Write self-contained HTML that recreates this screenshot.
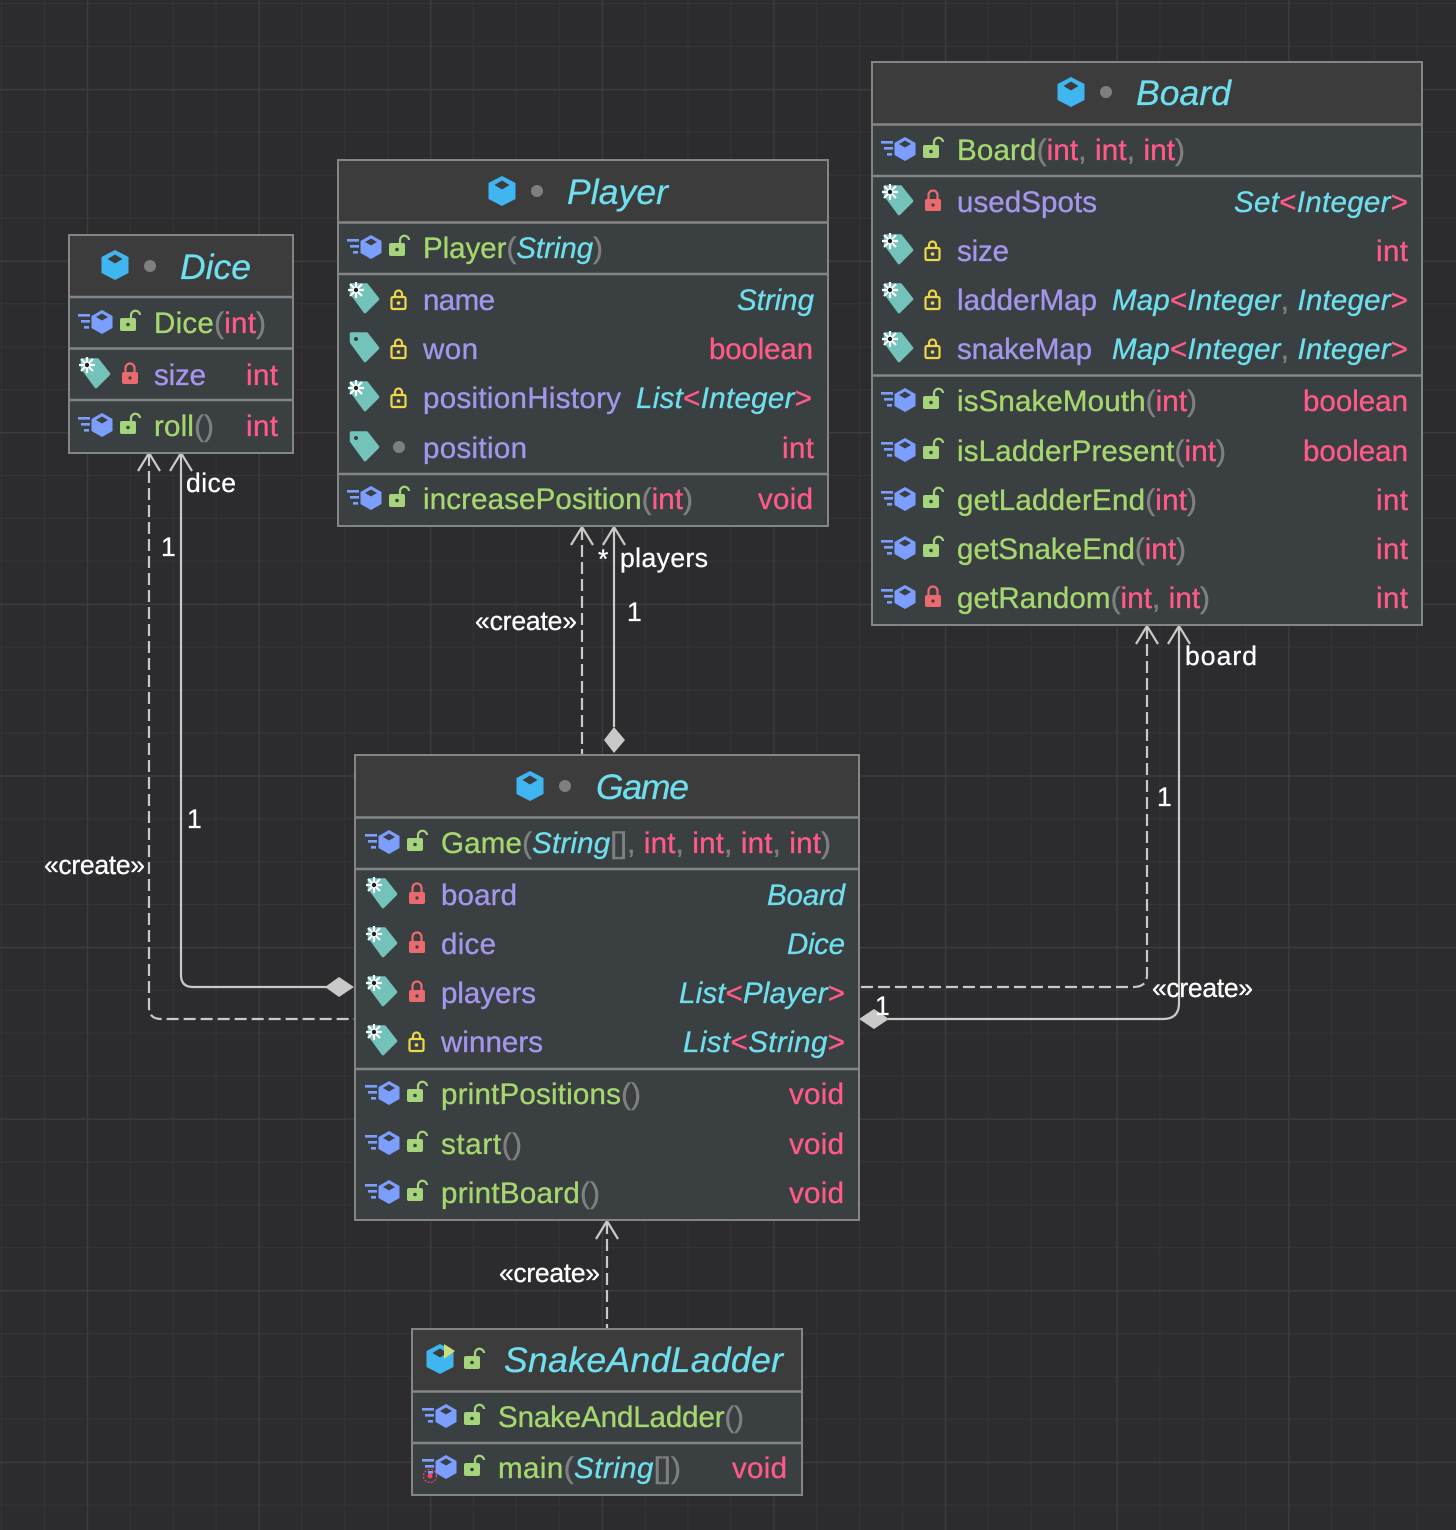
<!DOCTYPE html>
<html><head><meta charset="utf-8"><style>
html,body{margin:0;padding:0;background:#2c2b2e}
svg{display:block}
text{font-family:"Liberation Sans",sans-serif;font-size:29.5px}
.g{fill:#a6d76f;stroke:#a6d76f;stroke-width:.35}.p{fill:#7f7f7f;stroke:#7f7f7f;stroke-width:.5}.k{fill:#ff5a88;stroke:#ff5a88;stroke-width:.35}.c{fill:#6fdfee;stroke:#6fdfee;stroke-width:.3;font-style:italic}.f{fill:#a496ec;stroke:#a496ec;stroke-width:.35}
.t{fill:#6fdfee;stroke:#6fdfee;stroke-width:.3;font-style:italic;font-size:35.5px}
.l{fill:#fff;stroke:#fff;stroke-width:.3;font-size:26.5px}
.b1{fill:#3c3c3c}.b2{fill:#3a3f42}
.box{fill:none;stroke:#858585;stroke-width:2}
.d{stroke:#858585;stroke-width:2.4;fill:none}
.w{fill:none;stroke:#c9c9c9;stroke-width:2.2}
.da{stroke-dasharray:12 5}
</style></head><body>
<svg width="1456" height="1530" viewBox="0 0 1456 1530" xmlns="http://www.w3.org/2000/svg">
<defs>
<pattern id="mn" x="1" y="3" width="42.9" height="42.9" patternUnits="userSpaceOnUse"><path d="M0.5 0V43M0 0.5H43" stroke="#343436" stroke-width="1.2" fill="none"/></pattern>
<pattern id="mj" x="87" y="89" width="171.6" height="171.6" patternUnits="userSpaceOnUse"><path d="M0.5 0V172M0 0.5H172" stroke="#3d3d3f" stroke-width="1.4" fill="none"/></pattern>
<g id="cube"><path d="M0 -15L13.500 -8V8L0 15L-13.500 8V-8Z" fill="#40b6f0"/><path d="M0 -10.500L7.500 -6L0 -1.500L-7.500 -6Z" fill="#3c3c3c"/></g>
<g id="m"><path d="M-76 -8h12v2.600h-12zM-73 -2h9v2.600h-9zM-70 4h5v2.600h-5z" fill="#7c9fff"/><path d="M-52 -12L-41.500 -6V6L-52 12L-62.500 6V-6Z" fill="#7c9fff"/><path d="M-52 -8.500L-46 -5L-52 -1.500L-58 -5Z" fill="#3a3f42"/></g>
<g id="o"><rect x="-34" y="-4" width="16" height="13" rx="2" fill="#a6d47a"/><circle cx="-26" cy="2.500" r="1.800" fill="#3a3f42"/><path d="M-23 -4V-6.500A4.500 4.500 0 0 1 -14 -7" fill="none" stroke="#a6d47a" stroke-width="2.200"/></g>
<g id="r"><rect x="-32" y="-2" width="16" height="12" rx="2" fill="#ea6a70"/><circle cx="-24" cy="4" r="1.600" fill="#3a3f42"/><path d="M-28.500 -2V-6A4.500 4.500 0 0 1 -19.500 -6V-2" fill="none" stroke="#ea6a70" stroke-width="2.200"/></g>
<g id="y"><rect x="-31.500" y="-2" width="14" height="12" rx="1.500" fill="none" stroke="#f0d64a" stroke-width="2.200"/><circle cx="-24.500" cy="4" r="1.800" fill="#f0d64a"/><path d="M-28 -2V-5A3.500 3.500 0 0 1 -21 -5V-2" fill="none" stroke="#f0d64a" stroke-width="2.200"/></g>
<g id="a"><circle cx="-24" cy="0" r="6" fill="#7f7f7f"/></g>
<g id="tag"><path d="M-71.500 -14H-56.500L-45.500 0L-58 12.500L-71.500 -6Z" fill="#73c3ba" stroke="#73c3ba" stroke-linejoin="round" stroke-width="3.500"/><circle cx="-67" cy="-9" r="2" fill="#3a3f42"/></g>
<g id="tags"><use href="#tag"/><path d="M-75 -9H-59M-67 -17V-1M-73 -15L-61 -3M-73 -3L-61 -15" stroke="#fff" stroke-width="2.200" fill="none"/><circle cx="-67" cy="-9" r="2.200" fill="#222"/></g>
</defs>
<rect width="1456" height="1530" fill="#2c2b2e"/>
<rect width="1456" height="1530" fill="url(#mn)"/>
<rect width="1456" height="1530" fill="url(#mj)"/>

<!-- Connectors -->
<g class="w">
<path class="da" d="M149 454V1007Q149 1019 161 1019H355"/>
<path d="M181 454V975Q181 987 193 987H327"/>
<path class="da" d="M582 528V755"/>
<path d="M614 528V727"/>
<path class="da" d="M1147 627V975Q1147 987 1133 987H859"/>
<path d="M1179 627V1003Q1179 1019 1163 1019H888"/>
<path class="da" d="M607 1222V1329"/>
<path d="M138 471L149 453L160 471M170 471L181 453L192 471M571 545L582 527L593 545M603 545L614 527L625 545M1136 644L1147 626L1158 644M1168 644L1179 626L1190 644M596 1239L607 1221L618 1239"/>
</g>
<path d="M325 987L339 977L354 987L339 997ZM604 740L614 727L625 740L614 753ZM859 1019L874 1009L889 1019L874 1029Z" fill="#c9c9c9"/>

<!-- Dice -->
<rect x="69" y="235" width="224" height="218" class="b2"/><rect x="69" y="235" width="224" height="62" class="b1"/>
<rect x="69" y="235" width="224" height="218" class="box"/>
<path class="d" d="M70 297H292M70 348.500H292M70 400H292"/>
<use href="#cube" x="115" y="265"/><circle cx="150" cy="266" r="6" fill="#7f7f7f"/>
<text x="180" y="279" class="t" textLength="71">Dice</text>
<use href="#m" x="154" y="322"/><use href="#o" x="154" y="322"/>
<text x="154" y="333" textLength="112" class="g">Dice<tspan class="p">(</tspan><tspan class="k">int</tspan><tspan class="p">)</tspan></text>
<use href="#tags" x="154" y="374"/><use href="#r" x="154" y="374"/>
<text x="154" y="385" textLength="52" class="f">size</text><text x="246" y="385" textLength="32" class="k">int</text>
<use href="#m" x="154" y="425"/><use href="#o" x="154" y="425"/>
<text x="154" y="436" textLength="60" class="g">roll<tspan class="p">()</tspan></text><text x="246" y="436" textLength="32" class="k">int</text>

<!-- Player -->
<rect x="338" y="160" width="490" height="366" class="b2"/><rect x="338" y="160" width="490" height="62" class="b1"/>
<rect x="338" y="160" width="490" height="366" class="box"/>
<path class="d" d="M339 222.500H827M339 274H827M339 474H827"/>
<use href="#cube" x="502" y="191"/><circle cx="537" cy="191" r="6" fill="#7f7f7f"/>
<text x="567" y="204" class="t" textLength="101">Player</text>
<use href="#m" x="423" y="247"/><use href="#o" x="423" y="247"/>
<text x="423" y="258" textLength="180" class="g">Player<tspan class="p">(</tspan><tspan class="c">String</tspan><tspan class="p">)</tspan></text>
<use href="#tags" x="423" y="299"/><use href="#y" x="423" y="299"/>
<text x="423" y="310" textLength="72" class="f">name</text><text x="737" y="310" textLength="77" class="c">String</text>
<use href="#tag" x="423" y="348"/><use href="#y" x="423" y="348"/>
<text x="423" y="359" textLength="55" class="f">won</text><text x="709" y="359" textLength="104" class="k">boolean</text>
<use href="#tags" x="423" y="397"/><use href="#y" x="423" y="397"/>
<text x="423" y="408" textLength="198" class="f">positionHistory</text>
<text x="636" y="408" textLength="176" class="c">List<tspan class="k" style="font-style:normal">&lt;</tspan>Integer<tspan class="k" style="font-style:normal">&gt;</tspan></text>
<use href="#tag" x="423" y="447"/><use href="#a" x="423" y="447"/>
<text x="423" y="458" textLength="104" class="f">position</text><text x="782" y="458" textLength="32" class="k">int</text>
<use href="#m" x="423" y="498"/><use href="#o" x="423" y="498"/>
<text x="423" y="509" textLength="270" class="g">increasePosition<tspan class="p">(</tspan><tspan class="k">int</tspan><tspan class="p">)</tspan></text>
<text x="758" y="509" textLength="55" class="k">void</text>

<!-- Board -->
<rect x="872" y="62" width="550" height="563" class="b2"/><rect x="872" y="62" width="550" height="62" class="b1"/>
<rect x="872" y="62" width="550" height="563" class="box"/>
<path class="d" d="M873 124.500H1421M873 176H1421M873 375.500H1421"/>
<use href="#cube" x="1071" y="92"/><circle cx="1106" cy="92" r="6" fill="#7f7f7f"/>
<text x="1136" y="105" class="t" textLength="95">Board</text>
<use href="#m" x="957" y="149"/><use href="#o" x="957" y="149"/>
<text x="957" y="160" textLength="228" class="g">Board<tspan class="p">(</tspan><tspan class="k">int</tspan><tspan class="p">, </tspan><tspan class="k">int</tspan><tspan class="p">, </tspan><tspan class="k">int</tspan><tspan class="p">)</tspan></text>
<use href="#tags" x="957" y="201"/><use href="#r" x="957" y="201"/>
<text x="957" y="212" textLength="140" class="f">usedSpots</text>
<text x="1234" y="212" textLength="174" class="c">Set<tspan class="k" style="font-style:normal">&lt;</tspan>Integer<tspan class="k" style="font-style:normal">&gt;</tspan></text>
<use href="#tags" x="957" y="250"/><use href="#y" x="957" y="250"/>
<text x="957" y="261" textLength="52" class="f">size</text><text x="1376" y="261" textLength="32" class="k">int</text>
<use href="#tags" x="957" y="299"/><use href="#y" x="957" y="299"/>
<text x="957" y="310" textLength="140" class="f">ladderMap</text>
<text x="1112" y="310" textLength="296" class="c">Map<tspan class="k" style="font-style:normal">&lt;</tspan>Integer<tspan class="p" style="font-style:normal">, </tspan>Integer<tspan class="k" style="font-style:normal">&gt;</tspan></text>
<use href="#tags" x="957" y="348"/><use href="#y" x="957" y="348"/>
<text x="957" y="359" textLength="135" class="f">snakeMap</text>
<text x="1112" y="359" textLength="296" class="c">Map<tspan class="k" style="font-style:normal">&lt;</tspan>Integer<tspan class="p" style="font-style:normal">, </tspan>Integer<tspan class="k" style="font-style:normal">&gt;</tspan></text>
<use href="#m" x="957" y="400"/><use href="#o" x="957" y="400"/>
<text x="957" y="411" textLength="240" class="g">isSnakeMouth<tspan class="p">(</tspan><tspan class="k">int</tspan><tspan class="p">)</tspan></text>
<text x="1303" y="411" textLength="105" class="k">boolean</text>
<use href="#m" x="957" y="450"/><use href="#o" x="957" y="450"/>
<text x="957" y="461" textLength="269" class="g">isLadderPresent<tspan class="p">(</tspan><tspan class="k">int</tspan><tspan class="p">)</tspan></text>
<text x="1303" y="461" textLength="105" class="k">boolean</text>
<use href="#m" x="957" y="499"/><use href="#o" x="957" y="499"/>
<text x="957" y="510" textLength="240" class="g">getLadderEnd<tspan class="p">(</tspan><tspan class="k">int</tspan><tspan class="p">)</tspan></text>
<text x="1376" y="510" textLength="32" class="k">int</text>
<use href="#m" x="957" y="548"/><use href="#o" x="957" y="548"/>
<text x="957" y="559" textLength="229" class="g">getSnakeEnd<tspan class="p">(</tspan><tspan class="k">int</tspan><tspan class="p">)</tspan></text>
<text x="1376" y="559" textLength="32" class="k">int</text>
<use href="#m" x="957" y="597"/><use href="#r" x="957" y="597"/>
<text x="957" y="608" textLength="253" class="g">getRandom<tspan class="p">(</tspan><tspan class="k">int</tspan><tspan class="p">, </tspan><tspan class="k">int</tspan><tspan class="p">)</tspan></text>
<text x="1376" y="608" textLength="32" class="k">int</text>

<!-- Game -->
<rect x="355" y="755" width="504" height="465" class="b2"/><rect x="355" y="755" width="504" height="62" class="b1"/>
<rect x="355" y="755" width="504" height="465" class="box"/>
<path class="d" d="M356 817.500H858M356 869H858M356 1069H858"/>
<use href="#cube" x="530" y="786"/><circle cx="565" cy="786" r="6" fill="#7f7f7f"/>
<text x="596" y="799" class="t" textLength="93">Game</text>
<use href="#m" x="441" y="842"/><use href="#o" x="441" y="842"/>
<text x="441" y="853" textLength="390" class="g">Game<tspan class="p">(</tspan><tspan class="c">String</tspan><tspan class="p">[], </tspan><tspan class="k">int</tspan><tspan class="p">, </tspan><tspan class="k">int</tspan><tspan class="p">, </tspan><tspan class="k">int</tspan><tspan class="p">, </tspan><tspan class="k">int</tspan><tspan class="p">)</tspan></text>
<use href="#tags" x="441" y="894"/><use href="#r" x="441" y="894"/>
<text x="441" y="905" textLength="76" class="f">board</text><text x="767" y="905" textLength="78" class="c">Board</text>
<use href="#tags" x="441" y="943"/><use href="#r" x="441" y="943"/>
<text x="441" y="954" textLength="55" class="f">dice</text><text x="787" y="954" textLength="58" class="c">Dice</text>
<use href="#tags" x="441" y="992"/><use href="#r" x="441" y="992"/>
<text x="441" y="1003" textLength="95" class="f">players</text>
<text x="679" y="1003" textLength="166" class="c">List<tspan class="k" style="font-style:normal">&lt;</tspan>Player<tspan class="k" style="font-style:normal">&gt;</tspan></text>
<use href="#tags" x="441" y="1041"/><use href="#y" x="441" y="1041"/>
<text x="441" y="1052" textLength="102" class="f">winners</text>
<text x="683" y="1052" textLength="162" class="c">List<tspan class="k" style="font-style:normal">&lt;</tspan>String<tspan class="k" style="font-style:normal">&gt;</tspan></text>
<use href="#m" x="441" y="1093"/><use href="#o" x="441" y="1093"/>
<text x="441" y="1104" textLength="200" class="g">printPositions<tspan class="p">()</tspan></text><text x="789" y="1104" textLength="55" class="k">void</text>
<use href="#m" x="441" y="1143"/><use href="#o" x="441" y="1143"/>
<text x="441" y="1154" textLength="81" class="g">start<tspan class="p">()</tspan></text><text x="789" y="1154" textLength="55" class="k">void</text>
<use href="#m" x="441" y="1192"/><use href="#o" x="441" y="1192"/>
<text x="441" y="1203" textLength="159" class="g">printBoard<tspan class="p">()</tspan></text><text x="789" y="1203" textLength="55" class="k">void</text>

<!-- SnakeAndLadder -->
<rect x="412" y="1329" width="390" height="166" class="b2"/><rect x="412" y="1329" width="390" height="62" class="b1"/>
<rect x="412" y="1329" width="390" height="166" class="box"/>
<path class="d" d="M413 1391.500H801M413 1443H801"/>
<use href="#cube" x="440" y="1359"/><path d="M444 1344L455 1351L444 1359Z" fill="#c8e07a"/>
<use href="#o" x="498" y="1360"/>
<text x="504" y="1372" class="t" textLength="279">SnakeAndLadder</text>
<use href="#m" x="498" y="1416"/><use href="#o" x="498" y="1416"/>
<text x="498" y="1427" textLength="246" class="g">SnakeAndLadder<tspan class="p">()</tspan></text>
<use href="#m" x="498" y="1467"/><use href="#o" x="498" y="1467"/>
<circle cx="430" cy="1476" r="6.500" fill="none" stroke="#ff4060" stroke-width="1.200" stroke-dasharray="2 1.500"/><circle cx="430" cy="1476" r="2.500" fill="#ff4060"/>
<text x="498" y="1478" textLength="183" class="g">main<tspan class="p">(</tspan><tspan class="c">String</tspan><tspan class="p">[])</tspan></text>
<text x="732" y="1478" textLength="55" class="k">void</text>

<!-- Labels -->
<text x="186" y="492" class="l" textLength="50">dice</text>
<text x="161" y="556" class="l">1</text>
<text x="187" y="828" class="l">1</text>
<text x="44" y="874" class="l" textLength="101">«create»</text>
<text x="598" y="568" class="l">*</text>
<text x="620" y="567" class="l" textLength="88">players</text>
<text x="627" y="621" class="l">1</text>
<text x="475" y="630" class="l" textLength="102">«create»</text>
<text x="1185" y="665" class="l" textLength="72">board</text>
<text x="1157" y="806" class="l">1</text>
<text x="1152" y="997" class="l" textLength="101">«create»</text>
<text x="875" y="1015" class="l">1</text>
<text x="499" y="1282" class="l" textLength="101">«create»</text>
</svg>
</body></html>
